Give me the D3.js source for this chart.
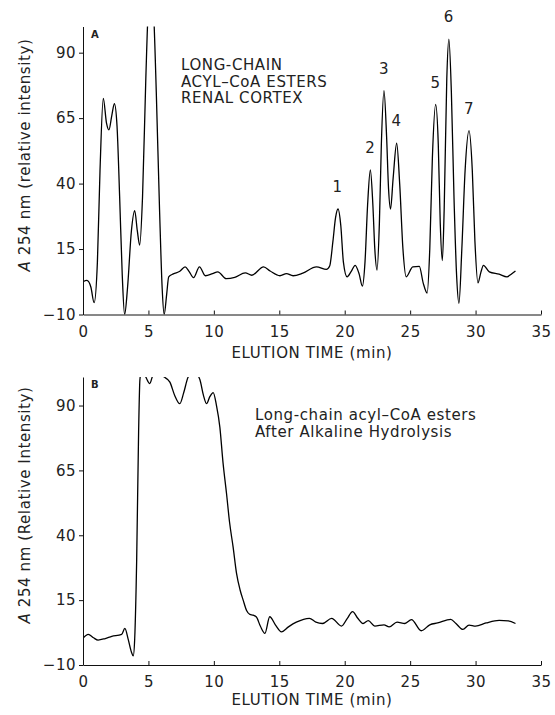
<!DOCTYPE html>
<meta charset="utf-8">
<style>
body { margin: 0; background: #fff; }
text { font-family: "DejaVu Sans", sans-serif; fill: #222; }
.axis path, .axis line { stroke: #111; stroke-width: 1; }
.axis text { font-size: 15px; letter-spacing: 0.5px; fill: #222; }
.trace { fill: none; stroke: #000; stroke-width: 1.3px; stroke-linejoin: round; }
.note { font-size: 15px; letter-spacing: 0.6px; }
.title { font-size: 15px; letter-spacing: 0.6px; }
.panel { font-size: 10px; font-weight: bold; }
</style>
<body>
<script src="https://cdn.jsdelivr.net/npm/d3@7"></script>
<script>

// panel A: renal cortex acyl-CoA esters
var timeA = [0, 0.3, 0.6, 0.85, 1.1, 1.3, 1.55, 1.8, 1.98, 2.2, 2.4, 2.6, 2.8, 3.0, 3.18, 3.4, 3.7, 3.95, 4.15, 4.33,
  4.55, 4.8, 5.0, 5.2, 5.4, 5.6, 5.85, 6.05, 6.2, 6.4, 6.55, 6.9, 7.4, 7.8, 8.1, 8.45, 8.9, 9.35, 9.9, 10.3,
  10.95, 11.6, 12.4, 12.9, 13.8, 14.3, 15.05, 15.55, 16.05, 16.8, 17.84, 18.6, 18.85, 19.1, 19.3, 19.49, 19.7, 19.9, 20.18, 20.5,
  20.8, 21.1, 21.35, 21.55, 21.75, 21.96, 22.15, 22.3, 22.47, 22.65, 22.8, 23.0, 23.2, 23.35, 23.5, 23.7, 23.97, 24.2, 24.45, 24.7,
  25.2, 25.7, 26.0, 26.3, 26.5, 26.7, 26.95, 27.15, 27.3, 27.46, 27.6, 27.8, 27.96, 28.15, 28.35, 28.55, 28.73, 28.95, 29.2, 29.5,
  29.75, 29.95, 30.18, 30.4, 30.6, 31.05, 31.8, 32.4, 32.7, 33.05];
var signalA = [2.5, 3.0, 0.5, -5.5, 10, 45, 72.5, 63, 60.5, 66, 70.5, 62, 35, 5, -10, 0, 22, 29.7, 22, 16.5,
  35, 80, 108, 115, 105, 75, 30, 0, -10, -2, 4.4, 5.5, 6.5, 8.2, 6.5, 4.1, 8.2, 4.8, 5.6, 6.3,
  3.7, 4.2, 5.9, 5.0, 8.2, 6.6, 4.8, 5.6, 4.8, 5.8, 8.2, 7.2, 8.5, 18, 27, 30.3, 24, 10, 4.4, 6.5,
  8.8, 5.5, 0.8, 10, 32, 45.2, 32, 15, 7, 25, 55, 75.5, 58, 38, 30.3, 42, 55.4, 40, 15, 4.4,
  8.2, 8.4, 2, -1.8, 15, 50, 70.2, 55, 25, 10.6, 30, 80, 95.2, 75, 35, 5, -5.7, 15, 45, 60.2,
  45, 18, 2.1, 6, 8.8, 6.3, 5.4, 4.4, 5.3, 6.6];

var peakLabels = ["1", "2", "3", "4", "5", "6", "7"];
var peakTimes = [19.45, 21.96, 23.0, 23.97, 26.95, 27.96, 29.5];
var peakValues = [30.3, 45.2, 75.5, 55.4, 70.2, 95.2, 60.2];

// panel B: after alkaline hydrolysis
var timeB = [0, 0.4, 0.8, 1.15, 1.7, 2.2, 2.95, 3.2, 3.45, 3.7, 3.84, 3.95, 4.1, 4.25, 4.35, 4.5, 4.8, 5.1, 5.35, 5.8,
  6.2, 6.64, 7.0, 7.4, 7.7, 8.04, 8.5, 8.93, 9.2, 9.44, 9.7, 9.95, 10.2, 10.46, 10.7, 10.97, 11.2, 11.47, 11.73, 12.0,
  12.24, 12.5, 12.75, 13.0, 13.25, 13.55, 13.9, 14.27, 14.7, 15.17, 15.7, 16.3, 17.3, 17.8, 18.3, 19.0, 19.75, 20.2, 20.6, 21.0,
  21.4, 21.8, 22.3, 23.0, 23.4, 24.0, 24.6, 25.1, 25.85, 26.5, 27.1, 28.1, 28.5, 29.03, 29.5, 30.0, 30.8, 31.8, 32.5, 33.05];
var signalB = [0.3, 1.8, 0.5, -0.4, 0.2, 1.0, 1.8, 4.1, 0, -5, -6.5, 0, 30, 80, 100, 104, 101, 98.5, 101.5, 102,
  101, 99, 94, 90.7, 95, 101, 103, 100, 94, 90.7, 93.5, 95, 90, 81.6, 68, 56, 45, 35.5, 25.4, 19,
  15, 11, 9.5, 9.2, 8.5, 5, 2.2, 8.6, 5.5, 2.8, 4.7, 6.5, 8, 6.5, 6, 8, 5, 8, 10.6, 8,
  6, 7.1, 5, 5.5, 4.7, 6.5, 6, 7.5, 3.2, 5.5, 6.2, 7.6, 6, 3.7, 5.4, 5, 6.2, 7.2, 7, 6];

var timeTicks = [0, 5, 10, 15, 20, 25, 30, 35];
var yTicks = [-10, 15, 40, 65, 90];

var width = 555, height = 715;
var svg = d3.select("body").append("svg")
    .attr("width", width)
    .attr("height", height);

function drawPanel(o) {
  var x = d3.scaleLinear().domain([0, 35]).range([83, 541]);
  var y = d3.scaleLinear().domain([-10, o.yMax]).range([o.bottom, o.top]);
  var g = svg.append("g");

  g.append("clipPath").attr("id", "clip" + o.id)
    .append("rect")
      .attr("x", 83).attr("y", o.top)
      .attr("width", 458).attr("height", o.bottom - o.top);

  var pts = o.times.map(function(t, i) { return [t, o.values[i]]; });
  var line = d3.line()
      .x(d => x(d[0]))
      .y(d => y(d[1]))
      .curve(d3.curveMonotoneX);

  g.append("path")
      .attr("class", "trace")
      .attr("clip-path", "url(#clip" + o.id + ")")
      .attr("d", line(pts));

  g.append("g")
      .attr("class", "axis")
      .attr("transform", "translate(0," + o.bottom + ")")
      .call(d3.axisBottom(x).tickValues(timeTicks).tickSizeInner(-4).tickSizeOuter(0).tickPadding(o.xPad));

  g.append("g")
      .attr("class", "axis")
      .attr("transform", "translate(83,0)")
      .call(d3.axisLeft(y).tickValues(yTicks).tickSizeInner(4).tickSizeOuter(0).tickPadding(3)
        .tickFormat(d => d < 0 ? "\u2212" + Math.abs(d) : d));

  g.append("text")
      .attr("class", "title")
      .attr("x", 312).attr("y", o.xTitleY)
      .attr("text-anchor", "middle")
      .text("ELUTION TIME (min)");

  var yt = g.append("text")
      .attr("class", "title")
      .attr("text-anchor", "middle")
      .attr("transform", "translate(30," + o.yTitleY + ") rotate(-90)");
  yt.append("tspan").attr("font-style", "italic").text("A");
  yt.append("tspan").text(o.yTitle);

  g.append("text")
      .attr("class", "panel")
      .attr("x", 91).attr("y", o.top + 11)
      .text(o.id);

  g.selectAll(".note")
    .data(o.note)
    .enter().append("text")
      .attr("class", "note")
      .attr("x", o.noteX)
      .attr("y", (d, i) => o.noteY + i * 16.5)
      .text(d => d);

  return {x: x, y: y, g: g};
}

var A = drawPanel({
  id: "A", times: timeA, values: signalA, yMax: 100, top: 26.5, bottom: 314.5,
  xPad: 12, xTitleY: 358, yTitleY: 155, yTitle: " 254 nm (relative intensity)",
  note: ["LONG-CHAIN", "ACYL\u2013CoA ESTERS", "RENAL CORTEX"], noteX: 181, noteY: 70
});

A.g.selectAll(".peak")
  .data(peakLabels)
  .enter().append("text")
    .attr("class", "note")
    .attr("text-anchor", "middle")
    .attr("x", (d, i) => A.x(peakTimes[i]))
    .attr("y", (d, i) => A.y(peakValues[i]) - 17)
    .text(d => d);

drawPanel({
  id: "B", times: timeB, values: signalB, yMax: 101, top: 377, bottom: 665,
  xPad: 11.5, xTitleY: 705, yTitleY: 505, yTitle: " 254 nm (Relative Intensity)",
  note: ["Long-chain acyl\u2013CoA esters", "After Alkaline Hydrolysis"], noteX: 255, noteY: 420
});
</script>
